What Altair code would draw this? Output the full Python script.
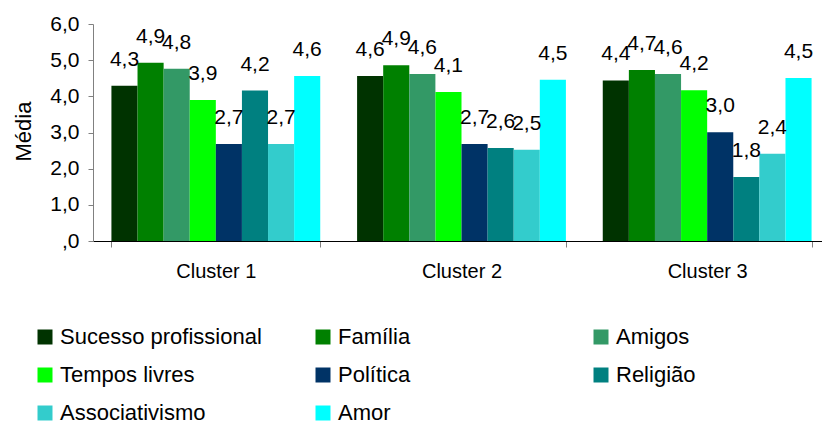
import altair as alt
import pandas as pd

clusters = ["Cluster 1", "Cluster 2", "Cluster 3"]
series = ["Sucesso profissional", "Família", "Amigos", "Tempos livres",
          "Política", "Religião", "Associativismo", "Amor"]
colors = ["#003300", "#008000", "#339966", "#00FF00",
          "#003366", "#008080", "#33CCCC", "#00FFFF"]
cluster1 = [4.29, 4.93, 4.76, 3.90, 2.68, 4.16, 2.68, 4.56]
cluster2 = [4.56, 4.86, 4.62, 4.12, 2.68, 2.57, 2.52, 4.46]
cluster3 = [4.44, 4.73, 4.62, 4.17, 3.01, 1.77, 2.41, 4.51]
y_ticks = [0, 1, 2, 3, 4, 5, 6]

rows = []
for c, vals in zip(clusters, [cluster1, cluster2, cluster3]):
    for s, v in zip(series, vals):
        rows.append({"Cluster": c, "Serie": s, "Valor": v,
                     "Label": f"{v:.1f}".replace(".", ",")})
df = pd.DataFrame(rows)

FONT = "Liberation Sans"

base = alt.Chart(df).encode(
    x=alt.X("Cluster:N", sort=clusters,
            scale=alt.Scale(paddingInner=0.15, paddingOuter=0.075),
            axis=alt.Axis(title=None, labelAngle=0, labelFontSize=20, labelFont=FONT,
                          labelColor="black", tickBand="extent", tickSize=6,
                          tickColor="#808080", domainColor="black", labelPadding=14)),
    xOffset=alt.XOffset("Serie:N", sort=series,
                        scale=alt.Scale(paddingInner=0, paddingOuter=0)),
    y=alt.Y("Valor:Q", scale=alt.Scale(domain=[0, 6], nice=False),
            axis=alt.Axis(values=y_ticks,
                          labelExpr="datum.value == 0 ? ',0' : replace(format(datum.value, '.1f'), '.', ',')",
                          grid=False, domainColor="#808080", tickColor="#808080",
                          tickSize=5, labelFontSize=21, labelFont=FONT, labelColor="black",
                          labelPadding=9, title="Média", titleFontSize=22, titleFont=FONT,
                          titleFontWeight="normal", titleColor="black", titleX=-63, titleY=107,
                          titleBaseline="alphabetic", titleAlign="center", titleAngle=270)),
)

bars = base.mark_bar().encode(
    color=alt.Color("Serie:N", sort=series,
                    scale=alt.Scale(domain=series, range=colors),
                    legend=alt.Legend(title=None, orient="none", legendX=-59, legendY=302,
                                      direction="horizontal", columns=3,
                                      symbolType="square", symbolSize=225,
                                      symbolStrokeWidth=0, symbolOpacity=1,
                                      labelFontSize=22, labelFont=FONT, labelColor="black",
                                      labelLimit=400, labelOffset=4, columnPadding=50,
                                      rowPadding=16, gridAlign="all", padding=0))
)

text = base.mark_text(baseline="alphabetic", dy=-20, fontSize=21, font=FONT,
                      color="black").encode(text="Label:N")

chart = alt.layer(bars, text).properties(
    width=737, height=217,
    padding={"left": 85, "top": 16, "right": -8, "bottom": 183},
    autosize="none",
).configure_view(stroke=None)

chart.save("out.html", embed_options={"renderer": "svg", "actions": False})
